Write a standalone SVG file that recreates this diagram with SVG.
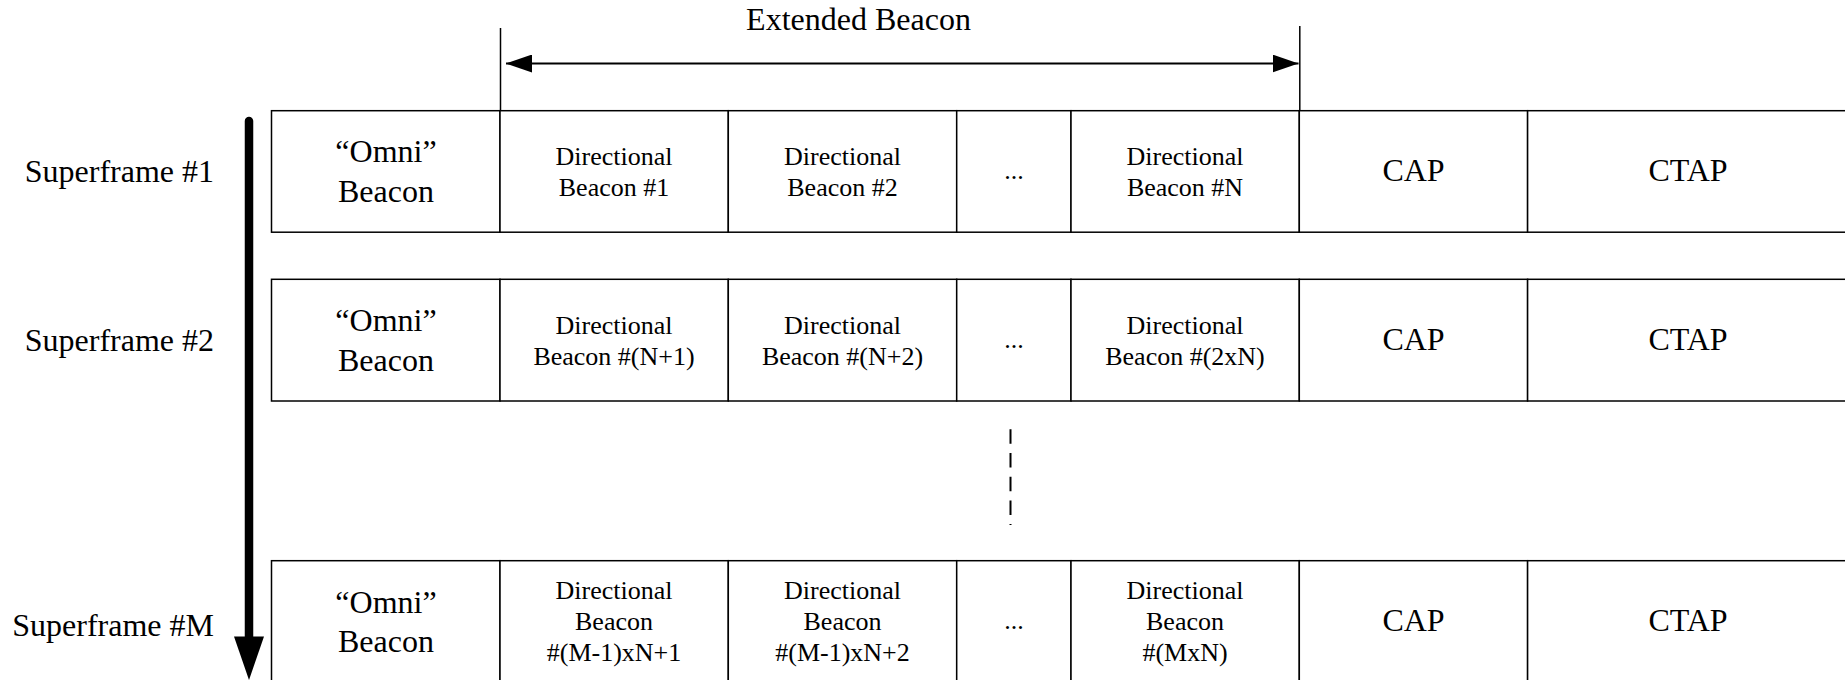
<svg xmlns="http://www.w3.org/2000/svg" width="1845" height="680" viewBox="0 0 1845 680">
  <style>
    .t { font-family: "Liberation Serif", "Times New Roman", serif; fill: #000; text-anchor: middle; }
    .big { font-size: 32px; }
    .small { font-size: 26px; }
    .lbl { font-family: "Liberation Serif", "Times New Roman", serif; font-size: 32px; fill: #000; text-anchor: end; }
    .cell { fill: #fff; stroke: #000; stroke-width: 1.5; }
    .ln { stroke: #000; stroke-width: 1.5; fill: none; }
  </style>
  <defs>
    <marker id="headR" viewBox="0 0 26 18" refX="26" refY="9" markerWidth="26" markerHeight="18" markerUnits="userSpaceOnUse" orient="auto">
      <path d="M0,0 L26,9 L0,18 Z" fill="#000"/>
    </marker>
    <marker id="headL" viewBox="0 0 26 18" refX="0" refY="9" markerWidth="26" markerHeight="18" markerUnits="userSpaceOnUse" orient="auto">
      <path d="M26,0 L0,9 L26,18 Z" fill="#000"/>
    </marker>
  </defs>
  <rect width="1845" height="680" fill="#fff"/>

  <!-- Superframe row labels -->
  <g id="labels">
    <text class="lbl" x="214" y="182">Superframe #1</text>
    <text class="lbl" x="214" y="351">Superframe #2</text>
    <text class="lbl" x="214" y="636">Superframe #M</text>
  </g>

  <!-- Superframe #1 -->
  <g id="sf1">
    <g id="sf1-omni"><rect class="cell" x="271.5" y="110.7" width="228.5" height="121.5"/>
      <text class="t big" x="386" y="162">“Omni”</text><text class="t big" x="386" y="202">Beacon</text></g>
    <g id="sf1-db1"><rect class="cell" x="500" y="110.7" width="228.3" height="121.5"/>
      <text class="t small" x="614" y="165">Directional</text><text class="t small" x="614" y="196">Beacon #1</text></g>
    <g id="sf1-db2"><rect class="cell" x="728.3" y="110.7" width="228.4" height="121.5"/>
      <text class="t small" x="842.5" y="165">Directional</text><text class="t small" x="842.5" y="196">Beacon #2</text></g>
    <g id="sf1-dots"><rect class="cell" x="956.7" y="110.7" width="114.3" height="121.5"/>
      <text class="t small" x="1014" y="179">...</text></g>
    <g id="sf1-dbn"><rect class="cell" x="1071" y="110.7" width="228.3" height="121.5"/>
      <text class="t small" x="1185" y="165">Directional</text><text class="t small" x="1185" y="196">Beacon #N</text></g>
    <g id="sf1-cap"><rect class="cell" x="1299.3" y="110.7" width="228.3" height="121.5"/>
      <text class="t big" x="1413.5" y="181">CAP</text></g>
    <g id="sf1-ctap"><rect class="cell" x="1527.6" y="110.7" width="340" height="121.5"/>
      <text class="t big" x="1688" y="181">CTAP</text></g>
  </g>

  <!-- Superframe #2 -->
  <g id="sf2">
    <g id="sf2-omni"><rect class="cell" x="271.5" y="279.3" width="228.5" height="121.7"/>
      <text class="t big" x="386" y="331">“Omni”</text><text class="t big" x="386" y="371">Beacon</text></g>
    <g id="sf2-db1"><rect class="cell" x="500" y="279.3" width="228.3" height="121.7"/>
      <text class="t small" x="614" y="334">Directional</text><text class="t small" x="614" y="365">Beacon #(N+1)</text></g>
    <g id="sf2-db2"><rect class="cell" x="728.3" y="279.3" width="228.4" height="121.7"/>
      <text class="t small" x="842.5" y="334">Directional</text><text class="t small" x="842.5" y="365">Beacon #(N+2)</text></g>
    <g id="sf2-dots"><rect class="cell" x="956.7" y="279.3" width="114.3" height="121.7"/>
      <text class="t small" x="1014" y="348">...</text></g>
    <g id="sf2-dbn"><rect class="cell" x="1071" y="279.3" width="228.3" height="121.7"/>
      <text class="t small" x="1185" y="334">Directional</text><text class="t small" x="1185" y="365">Beacon #(2xN)</text></g>
    <g id="sf2-cap"><rect class="cell" x="1299.3" y="279.3" width="228.3" height="121.7"/>
      <text class="t big" x="1413.5" y="350">CAP</text></g>
    <g id="sf2-ctap"><rect class="cell" x="1527.6" y="279.3" width="340" height="121.7"/>
      <text class="t big" x="1688" y="350">CTAP</text></g>
  </g>

  <!-- Superframe #M -->
  <g id="sfM">
    <g id="sfM-omni"><rect class="cell" x="271.5" y="560.7" width="228.5" height="125"/>
      <text class="t big" x="386" y="612.5">“Omni”</text><text class="t big" x="386" y="651.5">Beacon</text></g>
    <g id="sfM-db1"><rect class="cell" x="500" y="560.7" width="228.3" height="125"/>
      <text class="t small" x="614" y="598.5">Directional</text><text class="t small" x="614" y="629.5">Beacon</text><text class="t small" x="614" y="660.5">#(M-1)xN+1</text></g>
    <g id="sfM-db2"><rect class="cell" x="728.3" y="560.7" width="228.4" height="125"/>
      <text class="t small" x="842.5" y="598.5">Directional</text><text class="t small" x="842.5" y="629.5">Beacon</text><text class="t small" x="842.5" y="660.5">#(M-1)xN+2</text></g>
    <g id="sfM-dots"><rect class="cell" x="956.7" y="560.7" width="114.3" height="125"/>
      <text class="t small" x="1014" y="629">...</text></g>
    <g id="sfM-dbn"><rect class="cell" x="1071" y="560.7" width="228.3" height="125"/>
      <text class="t small" x="1185" y="598.5">Directional</text><text class="t small" x="1185" y="629.5">Beacon</text><text class="t small" x="1185" y="660.5">#(MxN)</text></g>
    <g id="sfM-cap"><rect class="cell" x="1299.3" y="560.7" width="228.3" height="125"/>
      <text class="t big" x="1413.5" y="631">CAP</text></g>
    <g id="sfM-ctap"><rect class="cell" x="1527.6" y="560.7" width="340" height="125"/>
      <text class="t big" x="1688" y="631">CTAP</text></g>
  </g>

  <!-- Extended Beacon span -->
  <g id="extended-beacon">
    <text class="t big" x="858.5" y="30">Extended Beacon</text>
  </g>

  <g id="connectors">
    <!-- span limits of the extended beacon -->
    <line class="ln" x1="500.5" y1="28" x2="500.5" y2="110.7"/>
    <line class="ln" x1="1299.8" y1="26" x2="1299.8" y2="110.7"/>
    <line x1="506" y1="63.5" x2="1298.5" y2="63.5" stroke="#000" stroke-width="2.2" marker-start="url(#headL)" marker-end="url(#headR)"/>
    <!-- time axis -->
    <line x1="249" y1="121" x2="249" y2="640" stroke="#000" stroke-width="8.5" stroke-linecap="round"/>
    <path d="M234,636.5 L264,636.5 L249,680 Z" fill="#000"/>
    <!-- omitted superframes -->
    <line x1="1010.5" y1="429.3" x2="1010.5" y2="525" stroke="#000" stroke-width="2" stroke-dasharray="14.5 9.2"/>
  </g>
</svg>
